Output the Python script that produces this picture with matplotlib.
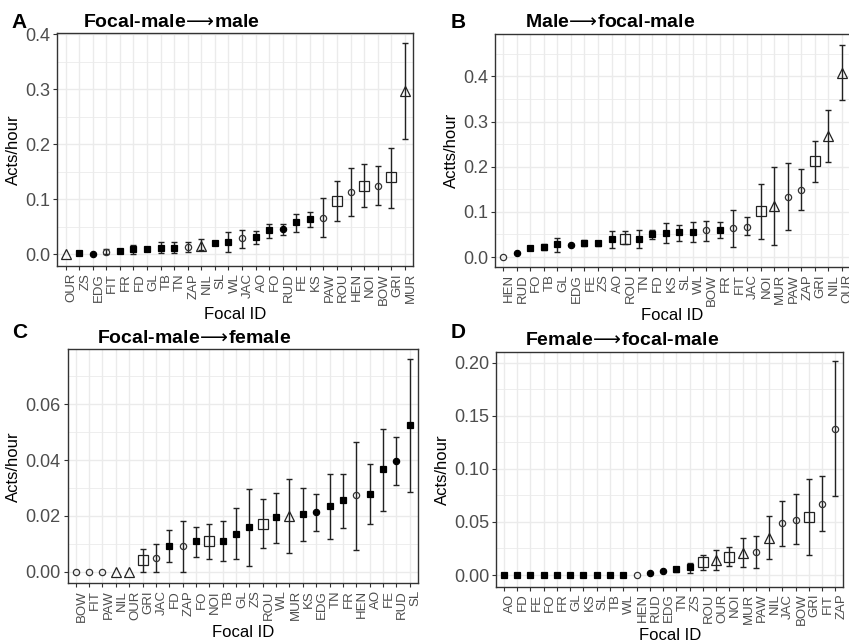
import matplotlib.pyplot as plt
import numpy as np

plt.rcParams['font.family'] = ['Liberation Sans', 'DejaVu Sans']
plt.rcParams['mathtext.fontset'] = 'dejavusans'

# marker group of each focal male (same in every panel)
group_fsq = ['ZS', 'FR', 'FD', 'GL', 'TB', 'TN', 'SL', 'WL', 'AO', 'FO', 'FE', 'KS']
group_fci = ['EDG', 'RUD']
group_oci = ['FIT', 'ZAP', 'JAC', 'PAW', 'HEN', 'BOW']
group_osq = ['ROU', 'NOI', 'GRI']
group_otr = ['OUR', 'NIL', 'MUR']

# A: focal-male -> male
a_ids = ['OUR', 'ZS', 'EDG', 'FIT', 'FR', 'FD', 'GL', 'TB', 'TN', 'ZAP', 'NIL', 'SL', 'WL',
         'JAC', 'AO', 'FO', 'RUD', 'FE', 'KS', 'PAW', 'ROU', 'HEN', 'NOI', 'BOW', 'GRI', 'MUR']
a_mean = [0, 0.002, 0.001, 0.005, 0.007, 0.009, 0.009, 0.012, 0.012, 0.013, 0.016, 0.021, 0.023,
          0.029, 0.031, 0.044, 0.046, 0.058, 0.065, 0.067, 0.097, 0.113, 0.125, 0.125, 0.140, 0.296]
a_lo = [0, 0.002, 0.001, 0.001, 0.005, 0.001, 0.007, 0.002, 0.003, 0.005, 0.008, 0.017, 0.004,
        0.012, 0.019, 0.029, 0.036, 0.040, 0.050, 0.031, 0.060, 0.069, 0.086, 0.090, 0.085, 0.210]
a_hi = [0, 0.002, 0.001, 0.009, 0.009, 0.018, 0.012, 0.022, 0.022, 0.022, 0.028, 0.025, 0.040,
        0.044, 0.042, 0.056, 0.056, 0.073, 0.077, 0.102, 0.133, 0.157, 0.165, 0.161, 0.193, 0.383]

# B: male -> focal-male
b_ids = ['HEN', 'RUD', 'FO', 'TB', 'GL', 'EDG', 'FE', 'ZS', 'AO', 'ROU', 'TN', 'FD', 'KS',
         'SL', 'WL', 'BOW', 'FR', 'FIT', 'JAC', 'NOI', 'MUR', 'PAW', 'ZAP', 'GRI', 'NIL', 'OUR']
b_mean = [0, 0.010, 0.020, 0.022, 0.028, 0.027, 0.031, 0.031, 0.040, 0.040, 0.040, 0.050, 0.054,
          0.055, 0.056, 0.059, 0.059, 0.064, 0.067, 0.102, 0.114, 0.134, 0.149, 0.213, 0.269, 0.408]
b_lo = [0, 0.010, 0.015, 0.016, 0.012, 0.024, 0.024, 0.024, 0.020, 0.028, 0.020, 0.040, 0.032,
        0.036, 0.034, 0.036, 0.042, 0.023, 0.048, 0.041, 0.027, 0.059, 0.105, 0.167, 0.210, 0.348]
b_hi = [0, 0.010, 0.025, 0.028, 0.042, 0.030, 0.038, 0.036, 0.057, 0.057, 0.060, 0.060, 0.075,
        0.072, 0.078, 0.080, 0.077, 0.104, 0.088, 0.162, 0.199, 0.208, 0.196, 0.257, 0.326, 0.470]

# C: focal-male -> female
c_ids = ['BOW', 'FIT', 'PAW', 'NIL', 'OUR', 'GRI', 'JAC', 'FD', 'ZAP', 'FO', 'NOI', 'TB', 'GL',
         'ZS', 'ROU', 'WL', 'MUR', 'KS', 'EDG', 'TN', 'FR', 'HEN', 'AO', 'FE', 'RUD', 'SL']
c_mean = [0, 0, 0, 0, 0, 0.0042, 0.0050, 0.0092, 0.0090, 0.0111, 0.0110, 0.0111, 0.0136,
          0.0161, 0.0171, 0.0195, 0.0198, 0.0208, 0.0212, 0.0236, 0.0257, 0.0273, 0.0277, 0.0367, 0.0397, 0.0525]
c_lo = [0, 0, 0, 0, 0, 0.0, 0.0, 0.0033, 0.0, 0.0054, 0.0046, 0.0039, 0.0044,
        0.0020, 0.0086, 0.0104, 0.0066, 0.0111, 0.0146, 0.0116, 0.0155, 0.0078, 0.0170, 0.0219, 0.0311, 0.0285]
c_hi = [0, 0, 0, 0, 0, 0.0082, 0.0099, 0.0148, 0.0182, 0.0161, 0.0170, 0.0182, 0.0227,
        0.0296, 0.0259, 0.0281, 0.0331, 0.0301, 0.0277, 0.0350, 0.0349, 0.0466, 0.0384, 0.0513, 0.0484, 0.0762]

# D: female -> focal-male
d_ids = ['AO', 'FD', 'FE', 'FO', 'FR', 'GL', 'KS', 'SL', 'TB', 'WL', 'HEN', 'RUD', 'EDG',
         'TN', 'ZS', 'ROU', 'OUR', 'NOI', 'MUR', 'PAW', 'NIL', 'JAC', 'BOW', 'GRI', 'FIT', 'ZAP']
d_mean = [0, 0, 0, 0, 0, 0, 0, 0, 0, 0, 0, 0.0015, 0.0035,
          0.0060, 0.0072, 0.0119, 0.0141, 0.0173, 0.0204, 0.0214, 0.0345, 0.0487, 0.0518, 0.0543, 0.0669, 0.138]
d_lo = [0, 0, 0, 0, 0, 0, 0, 0, 0, 0, 0, 0.0015, 0.0035,
        0.0030, 0.0022, 0.0047, 0.0047, 0.0088, 0.0072, 0.0069, 0.0148, 0.0276, 0.0289, 0.0188, 0.0418, 0.0747]
d_hi = [0, 0, 0, 0, 0, 0, 0, 0, 0, 0, 0, 0.0015, 0.0035,
        0.0078, 0.0116, 0.0188, 0.0235, 0.0267, 0.0345, 0.0367, 0.0556, 0.0694, 0.0763, 0.0900, 0.0936, 0.2016]

W, H = 849, 642
GRID = '#ebebeb'
TXT = '#4d4d4d'


def marker_style(name):
    if name in group_fsq:
        return dict(marker='s', ms=5.0, mfc='black', mec='black')
    if name in group_fci:
        return dict(marker='o', ms=4.5, mfc='black', mec='black')
    if name in group_oci:
        return dict(marker='o', ms=4.5, mfc='none', mec='#333333')
    if name in group_osq:
        return dict(marker='s', ms=6.5, mfc='none', mec='#222222')
    return dict(marker='^', ms=6.5, mfc='none', mec='#222222')


def px_axes(fig, left, right, top, bottom):
    return fig.add_axes([left / W, 1 - bottom / H, (right - left) / W, (bottom - top) / H])


def panel(ax, ids, mean, lo, hi, ylim, yticks, minor, fmt, ylabel):
    x = np.arange(len(ids))
    mean = np.array(mean)
    lo = np.array(lo)
    hi = np.array(hi)
    has_err = hi > lo
    ax.errorbar(x[has_err], mean[has_err],
                yerr=[mean[has_err] - lo[has_err], hi[has_err] - mean[has_err]],
                fmt='none', ecolor='#222222', elinewidth=1.0, capsize=2, capthick=1.0, zorder=3)
    for xi, yi, name in zip(x, mean, ids):
        ax.plot(xi, yi, ls='none', mew=0.9, zorder=4, **marker_style(name))
    ax.set_xlim(-0.6, len(ids) - 0.4)
    ax.set_ylim(*ylim)
    ax.set_xticks(x)
    ax.set_xticklabels(ids, rotation=90, ha='left', va='top', fontsize=9.5, color=TXT)
    ax.set_yticks(yticks)
    ax.set_yticklabels([fmt % v for v in yticks], fontsize=13, color=TXT)
    ax.set_yticks(minor, minor=True)
    ax.grid(True, which='major', color=GRID, lw=1.0, zorder=0)
    ax.grid(True, which='minor', axis='y', color=GRID, lw=0.6, zorder=0)
    ax.set_axisbelow(True)
    ax.tick_params(which='major', length=3, width=0.8, color='#333333', pad=2)
    ax.tick_params(which='minor', length=0)
    for s in ax.spines.values():
        s.set_color('#333333')
        s.set_linewidth(1.0)
    ax.set_xlabel('Focal ID', fontsize=12, labelpad=2)
    ax.set_ylabel(ylabel, fontsize=12, labelpad=3)


fig = plt.figure(figsize=(W / 100, H / 100), dpi=100)

ax_a = px_axes(fig, 57.5, 413, 33, 266)
panel(ax_a, a_ids, a_mean, a_lo, a_hi, (-0.021, 0.402), [0, 0.1, 0.2, 0.3, 0.4],
      [0.05, 0.15, 0.25, 0.35], '%.1f', 'Acts/hour')

ax_b = px_axes(fig, 495, 850, 34, 267)
panel(ax_b, b_ids, b_mean, b_lo, b_hi, (-0.022, 0.494), [0, 0.1, 0.2, 0.3, 0.4],
      [0.05, 0.15, 0.25, 0.35, 0.45], '%.1f', 'Actts/hour')

ax_c = px_axes(fig, 67.7, 417.7, 349.3, 583.3)
panel(ax_c, c_ids, c_mean, c_lo, c_hi, (-0.0042, 0.0797), [0, 0.02, 0.04, 0.06],
      [0.01, 0.03, 0.05, 0.07], '%.2f', 'Acts/hour')

ax_d = px_axes(fig, 496, 843.3, 351.7, 586.7)
panel(ax_d, d_ids, d_mean, d_lo, d_hi, (-0.011, 0.2104), [0, 0.05, 0.1, 0.15, 0.2],
      [0.025, 0.075, 0.125, 0.175], '%.2f', 'Acts/hour')

arrow = r'$\!\longrightarrow\!$'
titles = [('Focal-male' + arrow + 'male', 83, 27), ('Male' + arrow + 'focal-male', 525, 27),
          ('Focal-male' + arrow + 'female', 97, 343), ('Female' + arrow + 'focal-male', 525, 345)]
for txt, x0, y0 in titles:
    fig.text(x0 / W, 1 - y0 / H, txt, fontsize=14, fontweight='bold', ha='left', va='baseline')

letters = [('A', 11, 28), ('B', 451, 28), ('C', 12, 338), ('D', 451, 338)]
for txt, x0, y0 in letters:
    fig.text(x0 / W, 1 - y0 / H, txt, fontsize=15, fontweight='bold', ha='left', va='baseline')

fig.savefig('out.png', dpi=100)
